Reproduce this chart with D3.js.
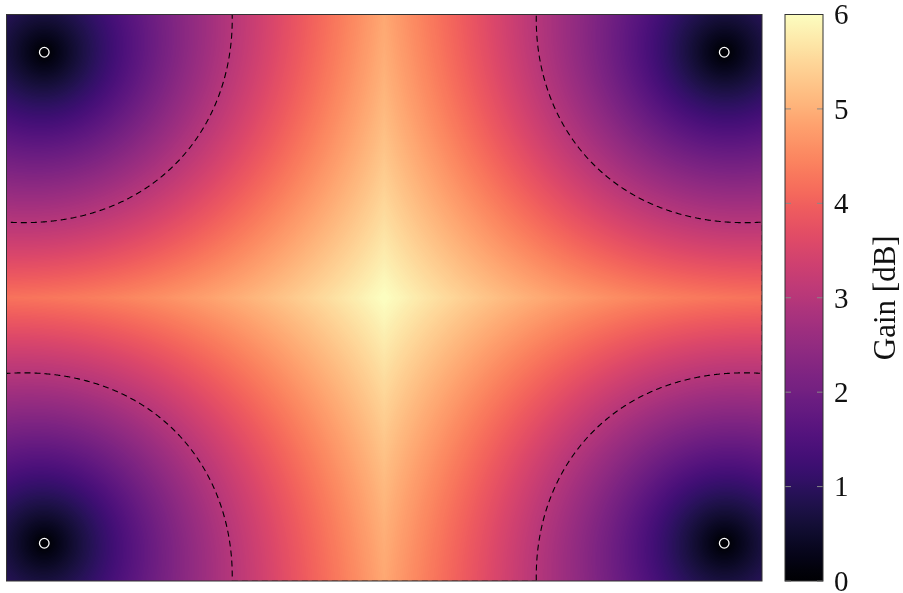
<!DOCTYPE html>
<html>
<head>
<meta charset="utf-8">
<script src="https://cdn.jsdelivr.net/npm/d3@7/dist/d3.min.js"></script>
<style>
  html, body { margin: 0; padding: 0; background: #fff; }
  #wrap { position: relative; width: 903px; height: 593px; }
  canvas, svg { position: absolute; left: 0; top: 0; }
  text { font-family: "Liberation Serif", serif; fill: #111; }
</style>
</head>
<body>
<div id="wrap">
  <canvas id="field" width="903" height="593"></canvas>
  <svg id="chart" width="903" height="593"></svg>
</div>
<script>
// Room extent in metres
const roomX = [0, 4];
const roomY = [0, 3];
// Loudspeaker positions (x, y) in metres
const sourceX = [0.2, 3.8, 0.2, 3.8];
const sourceY = [0.2, 0.2, 2.8, 2.8];
// Colour range and colourbar ticks (dB)
const gainDomain = [0, 6];
const gainTicks = [0, 1, 2, 3, 4, 5, 6];
// Level of the dashed iso-gain line (dB)
const contourLevels = [3];
const colorLabel = "Gain [dB]";

const plot = { left: 6.5, right: 762, top: 14.5, bottom: 581 };
const bar = { left: 785, right: 823 };

const x = d3.scaleLinear().domain(roomX).range([plot.left, plot.right]);
const y = d3.scaleLinear().domain(roomY).range([plot.bottom, plot.top]);
const color = d3.scaleSequential(d3.interpolateMagma).domain(gainDomain);

// Power summation of all sources relative to the nearest one (1/r level law)
function gainAt(px, py) {
  let sum = 0, best = 0;
  for (let i = 0; i < sourceX.length; i++) {
    const d = Math.hypot(px - sourceX[i], py - sourceY[i]) || 1e-9;
    const v = 1 / d;
    sum += v;
    if (v > best) best = v;
  }
  return 10 * Math.log10(sum / best);
}

// Sample the field once per screen pixel of the plot area
const x0 = Math.floor(plot.left), x1 = Math.ceil(plot.right);
const y0 = Math.floor(plot.top), y1 = Math.ceil(plot.bottom);
const gw = x1 - x0, gh = y1 - y0;
const grid = new Float64Array(gw * gh);
for (let j = 0; j < gh; j++) {
  const py = y.invert(y0 + j + 0.5);
  for (let i = 0; i < gw; i++) {
    grid[j * gw + i] = gainAt(x.invert(x0 + i + 0.5), py);
  }
}

const ctx = document.getElementById("field").getContext("2d");
const img = ctx.createImageData(gw, gh);
for (let k = 0; k < grid.length; k++) {
  const c = d3.rgb(color(grid[k]));
  img.data[4 * k] = c.r;
  img.data[4 * k + 1] = c.g;
  img.data[4 * k + 2] = c.b;
  img.data[4 * k + 3] = 255;
}
ctx.putImageData(img, x0, y0);

const svg = d3.select("#chart");

svg.append("clipPath").attr("id", "plotClip")
  .append("rect")
  .attr("x", plot.left + 0.5).attr("y", plot.top + 0.5)
  .attr("width", plot.right - plot.left - 1).attr("height", plot.bottom - plot.top - 1);

// Dashed iso-gain contours
const contours = d3.contours().size([gw, gh]).thresholds(contourLevels)(Array.from(grid));
const toScreen = d3.geoTransform({
  point: function (px, py) { this.stream.point(x0 + px, y0 + py); }
});
svg.append("g")
  .attr("clip-path", "url(#plotClip)")
  .selectAll("path")
  .data(contours)
  .join("path")
  .attr("d", d3.geoPath(toScreen))
  .attr("fill", "none")
  .attr("stroke", "#000")
  .attr("stroke-width", 1.1)
  .attr("stroke-dasharray", "6,4");

// Source markers
svg.append("g").selectAll("circle")
  .data(sourceX.map((sx, i) => [sx, sourceY[i]]))
  .join("circle")
  .attr("cx", d => x(d[0]))
  .attr("cy", d => y(d[1]))
  .attr("r", 4.8)
  .attr("fill", "none")
  .attr("stroke", "#fff")
  .attr("stroke-width", 1.3);

// Plot frame
svg.append("rect")
  .attr("x", plot.left).attr("y", plot.top)
  .attr("width", plot.right - plot.left).attr("height", plot.bottom - plot.top)
  .attr("fill", "none").attr("stroke", "#333").attr("stroke-width", 1);

// Colourbar
const cb = d3.scaleLinear().domain(gainDomain).range([plot.bottom, plot.top]);
const grad = svg.append("defs").append("linearGradient")
  .attr("id", "cbGrad").attr("x1", 0).attr("y1", 1).attr("x2", 0).attr("y2", 0);
d3.range(0, 1.0001, 0.02).forEach(t => {
  grad.append("stop").attr("offset", t)
    .attr("stop-color", color(gainDomain[0] + t * (gainDomain[1] - gainDomain[0])));
});
svg.append("rect")
  .attr("x", bar.left).attr("y", plot.top)
  .attr("width", bar.right - bar.left).attr("height", plot.bottom - plot.top)
  .attr("fill", "url(#cbGrad)");

const tickG = svg.append("g");
gainTicks.forEach(t => {
  const ty = cb(t);
  tickG.append("line")
    .attr("x1", bar.left).attr("x2", bar.left + 6).attr("y1", ty).attr("y2", ty)
    .attr("stroke", "#888").attr("stroke-width", 1);
  tickG.append("line")
    .attr("x1", bar.right - 6).attr("x2", bar.right).attr("y1", ty).attr("y2", ty)
    .attr("stroke", "#888").attr("stroke-width", 1);
});
svg.append("rect")
  .attr("x", bar.left).attr("y", plot.top)
  .attr("width", bar.right - bar.left).attr("height", plot.bottom - plot.top)
  .attr("fill", "none").attr("stroke", "#333").attr("stroke-width", 1);

svg.append("g").selectAll("text")
  .data(gainTicks)
  .join("text")
  .attr("x", 834)
  .attr("y", d => cb(d))
  .attr("dy", "0.34em")
  .attr("font-size", 29)
  .text(d => d);

svg.append("text")
  .attr("transform", `translate(895,${(plot.top + plot.bottom) / 2}) rotate(-90)`)
  .attr("text-anchor", "middle")
  .attr("font-size", 31)
  .text(colorLabel);
</script>
</body>
</html>
